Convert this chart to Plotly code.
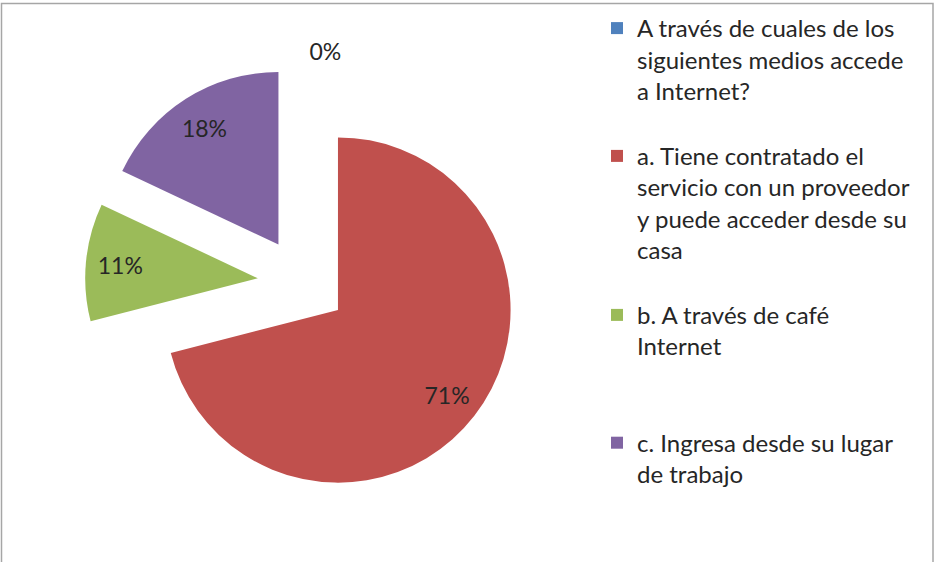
import plotly.graph_objects as go

labels = [
    "A través de cuales de los<br>siguientes medios accede<br>a Internet?<br> ",
    "a. Tiene contratado el<br>servicio con un proveedor<br>y puede acceder desde su<br>casa<br> ",
    "b. A través de café<br>Internet<br> <br> ",
    "c. Ingresa desde su lugar<br>de trabajo",
]
values = [0, 71, 11, 18]
colors = ["#4F81BD", "#C0504D", "#9BBB59", "#8064A2"]
text_positions = ["outside", "inside", "inside", "inside"]

domain = dict(x=[85 / 936, 520 / 936], y=[62 / 562, 497 / 562])
label_font = dict(family="Lato, sans-serif", size=23, color="#262626")

# Slices
fig = go.Figure(
    go.Pie(
        labels=labels,
        values=values,
        sort=False,
        direction="clockwise",
        rotation=0,
        pull=0.26,
        marker=dict(colors=colors, line=dict(width=0)),
        textinfo="none",
        domain=domain,
        hoverinfo="label+percent",
    )
)

# Percentage labels (transparent ring so labels sit near the rim like the original)
fig.add_trace(
    go.Pie(
        labels=labels,
        values=values,
        sort=False,
        direction="clockwise",
        rotation=0,
        pull=0.26,
        hole=0.6,
        marker=dict(colors=["rgba(0,0,0,0)"] * len(values), line=dict(width=0)),
        texttemplate="%{percent:.0%}",
        textposition=text_positions,
        insidetextorientation="horizontal",
        textfont=label_font,
        outsidetextfont=label_font,
        insidetextfont=label_font,
        domain=domain,
        showlegend=False,
        hoverinfo="skip",
    )
)

fig.update_layout(
    width=936,
    height=562,
    margin=dict(l=0, r=0, t=0, b=0, autoexpand=False),
    paper_bgcolor="white",
    plot_bgcolor="white",
    showlegend=True,
    legend=dict(
        x=597 / 936,
        y=1 - 6 / 562,
        xanchor="left",
        yanchor="top",
        valign="top",
        font=dict(family="Lato, sans-serif", size=24, color="#262626"),
        bgcolor="rgba(0,0,0,0)",
    ),
    shapes=[
        dict(
            type="rect",
            xref="paper",
            yref="paper",
            x0=1.5 / 936,
            x1=933 / 936,
            y0=-0.1,
            y1=1 - 3.5 / 562,
            line=dict(color="#A6A6A6", width=1.5),
            fillcolor="rgba(0,0,0,0)",
            layer="below",
        )
    ],
)

fig.write_html(
    "out.html",
    config={"displayModeBar": False},
    post_script="document.body.style.margin='0';document.body.style.padding='0';",
)
